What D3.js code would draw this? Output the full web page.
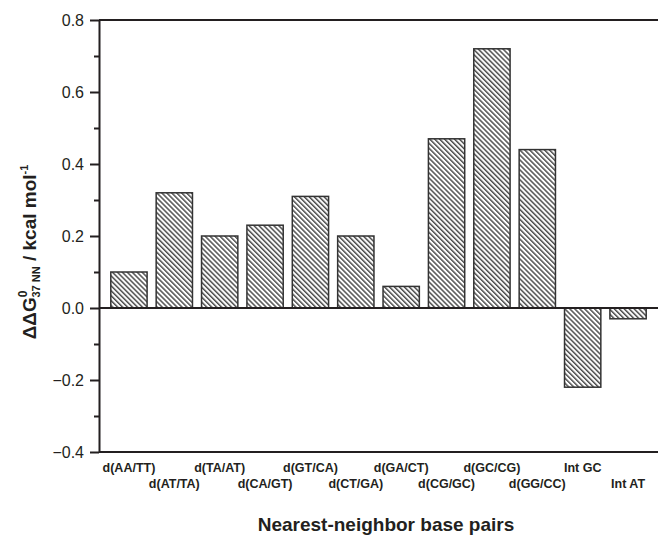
<!DOCTYPE html>
<html>
<head>
<meta charset="utf-8">
<script src="https://cdn.jsdelivr.net/npm/d3@7"></script>
<style>
  body { margin: 0; background: #fff; }
  svg { display: block; font-family: "Liberation Sans", Arial, sans-serif; }
  .axis path, .axis line { stroke: #231f20; }
</style>
</head>
<body>
<script>
// nearest-neighbour pairs and their ddG values (kcal/mol)
var pairs = ['d(AA/TT)', 'd(AT/TA)', 'd(TA/AT)', 'd(CA/GT)', 'd(GT/CA)', 'd(CT/GA)',
             'd(GA/CT)', 'd(CG/GC)', 'd(GC/CG)', 'd(GG/CC)', 'Int GC', 'Int AT'];
var ddG = [0.10, 0.32, 0.20, 0.23, 0.31, 0.20, 0.06, 0.47, 0.72, 0.44, -0.22, -0.03];
var majorTicks = [-0.4, -0.2, 0.0, 0.2, 0.4, 0.6, 0.8];
var minorTicks = [-0.3, -0.1, 0.1, 0.3, 0.5, 0.7];

var W = 658, H = 535;
var plotL = 99, plotR = 658, plotT = 20, plotB = 452;
var ink = '#231f20';

var svg = d3.select('body').append('svg')
    .attr('width', W).attr('height', H);

// hatch fill: "\\\" lines
var pat = svg.append('defs').append('pattern')
    .attr('id', 'hatch')
    .attr('patternUnits', 'userSpaceOnUse')
    .attr('width', 8).attr('height', 3.5)
    .attr('patternTransform', 'rotate(45)');
pat.append('rect').attr('width', 8).attr('height', 3.5).attr('fill', '#fff');
pat.append('line')
    .attr('x1', 0).attr('x2', 8).attr('y1', 1).attr('y2', 1)
    .attr('stroke', '#333').attr('stroke-width', 1.3);

var x = d3.scaleBand().domain(pairs).range([plotL, plotR])
    .paddingInner(0.2).paddingOuter(0.26);
var y = d3.scaleLinear().domain([-0.4, 0.8]).range([plotB, plotT]);

// bars
svg.append('g').selectAll('rect')
    .data(pairs)
    .join('rect')
    .attr('x', function(d) { return x(d); })
    .attr('width', x.bandwidth())
    .attr('y', function(d, i) { return y(Math.max(0, ddG[i])); })
    .attr('height', function(d, i) { return Math.abs(y(ddG[i]) - y(0)); })
    .attr('fill', 'url(#hatch)')
    .attr('stroke', '#333')
    .attr('stroke-width', 1.5);

// frame lines: top, bottom, zero
svg.append('line').attr('x1', plotL).attr('x2', plotR).attr('y1', plotT).attr('y2', plotT)
    .attr('stroke', ink).attr('stroke-width', 2);
svg.append('line').attr('x1', plotL).attr('x2', plotR).attr('y1', plotB).attr('y2', plotB)
    .attr('stroke', ink).attr('stroke-width', 2);
svg.append('line').attr('x1', plotL).attr('x2', plotR).attr('y1', y(0)).attr('y2', y(0))
    .attr('stroke', ink).attr('stroke-width', 2);

// y axis
var axisY = d3.axisLeft(y).tickValues(majorTicks).tickSize(9).tickSizeOuter(0)
    .tickPadding(6).tickFormat(d3.format('.1f'));
var gy = svg.append('g').attr('class', 'axis')
    .attr('transform', 'translate(' + plotL + ',0)')
    .call(axisY);
gy.selectAll('path, line').attr('stroke-width', 2);
gy.selectAll('text').attr('font-size', 16).attr('fill', ink)
    .style('font-family', '"Liberation Sans", Arial, sans-serif');

var minorY = d3.axisLeft(y).tickValues(minorTicks).tickSize(5).tickFormat('');
var gm = svg.append('g').attr('class', 'axis')
    .attr('transform', 'translate(' + plotL + ',0)')
    .call(minorY);
gm.select('.domain').remove();
gm.selectAll('line').attr('stroke-width', 2);

// category labels, alternating rows
svg.append('g').selectAll('text')
    .data(pairs)
    .join('text')
    .attr('x', function(d) { return x(d) + x.bandwidth() / 2; })
    .attr('y', function(d, i) { return i % 2 === 0 ? 472 : 488; })
    .attr('text-anchor', 'middle')
    .attr('font-size', 12.5)
    .attr('font-weight', 'bold')
    .attr('fill', ink)
    .text(function(d) { return d; });

// x title
svg.append('text')
    .attr('x', 386).attr('y', 531)
    .attr('text-anchor', 'middle')
    .attr('font-size', 19).attr('font-weight', 'bold').attr('fill', ink)
    .text('Nearest-neighbor base pairs');

// y title with super/subscripts
var yt = svg.append('text')
    .attr('transform', 'translate(36,252) rotate(-90)')
    .attr('text-anchor', 'middle')
    .attr('font-size', 19).attr('font-weight', 'bold').attr('fill', ink);
yt.append('tspan').text('ΔΔG');
yt.append('tspan').attr('font-size', 12).attr('dy', -9).text('0');
yt.append('tspan').attr('font-size', 11).attr('dx', -7).attr('dy', 13).text('37 NN');
yt.append('tspan').attr('dy', -4).text(' / kcal mol');
yt.append('tspan').attr('font-size', 11).attr('dy', -8).text('-1');
</script>
</body>
</html>
